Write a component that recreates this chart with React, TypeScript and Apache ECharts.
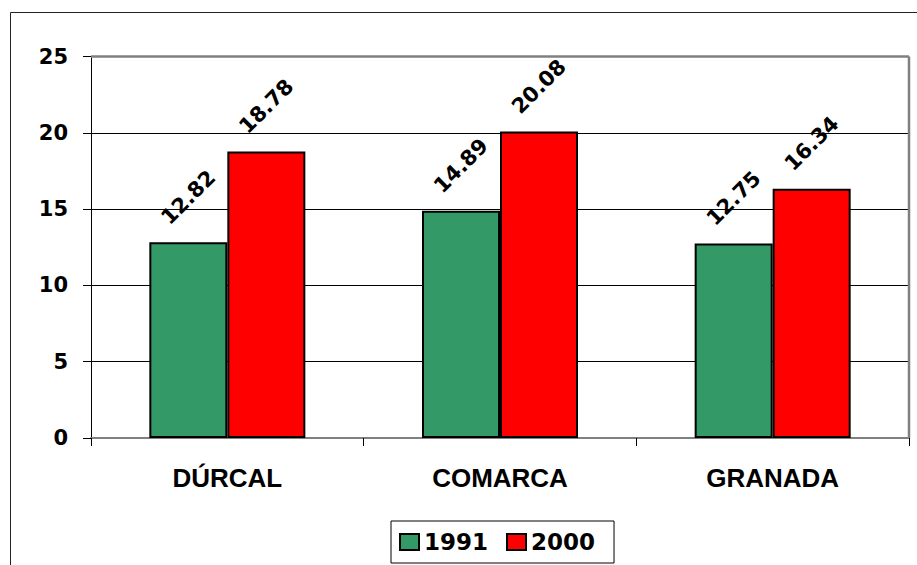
import React, { useEffect, useRef } from "react";
import * as echarts from "echarts";

const categories = ["DÚRCAL", "COMARCA", "GRANADA"];
const series1991 = [12.82, 14.89, 12.75];
const series2000 = [18.78, 20.08, 16.34];
const seriesNames = ["1991", "2000"];
const yTicks = { min: 0, max: 25, interval: 5 };

const NUM_FONT = "DejaVu Sans";
const CAT_FONT = "Liberation Sans";

export default function App() {
  const ref = useRef<HTMLDivElement>(null);
  useEffect(() => {
    document.body.style.margin = "0";
    if (!ref.current) return;
    const chart = echarts.init(ref.current, null, { renderer: "svg" });
    const W = 917;
    const H = 565;
    const gl = 91, gt = 56.5, gr = 8, gb = 127;
    const labelCfg = {
      show: true,
      position: "top",
      distance: 45,
      rotate: 45,
      align: "center",
      verticalAlign: "middle",
      fontFamily: NUM_FONT,
      fontWeight: "bold",
      fontSize: 21,
      color: "#000",
      formatter: (p: any) => p.value.toFixed(2),
    };
    chart.setOption({
      animation: false,
      backgroundColor: "#fff",
      grid: { left: gl, top: gt, right: gr, bottom: gb, containLabel: false },
      legend: {
        left: 391,
        top: 521,
        orient: "horizontal",
        borderColor: "#000",
        borderWidth: 1,
        padding: [9, 19, 9, 8],
        itemGap: 18,
        itemWidth: 19,
        itemHeight: 16,
        icon: "rect",
        textStyle: {
          fontFamily: NUM_FONT,
          fontWeight: "bold",
          fontSize: 23,
          color: "#000",
          lineHeight: 24,
        },
        data: seriesNames,
      },
      xAxis: {
        type: "category",
        data: categories,
        axisLine: { show: true, lineStyle: { color: "#808080", width: 2 } },
        axisTick: { show: true, length: 8, alignWithLabel: false, lineStyle: { color: "#000", width: 1 } },
        axisLabel: {
          margin: 27,
          fontFamily: CAT_FONT,
          fontWeight: "bold",
          fontSize: 26,
          color: "#000",
        },
        splitLine: { show: false },
      },
      yAxis: {
        type: "value",
        min: yTicks.min,
        max: yTicks.max,
        interval: yTicks.interval,
        axisLine: { show: true, lineStyle: { color: "#000", width: 1 } },
        axisTick: { show: true, length: 8, lineStyle: { color: "#000", width: 1 } },
        axisLabel: {
          margin: 23,
          fontFamily: NUM_FONT,
          fontWeight: "bold",
          fontSize: 21,
          color: "#000",
        },
        splitLine: { show: true, lineStyle: { color: "#000", width: 1 } },
      },
      series: [
        {
          name: seriesNames[0],
          type: "bar",
          data: series1991,
          barWidth: 78,
          barGap: "0%",
          itemStyle: { color: "#339966", borderColor: "#000", borderWidth: 2 },
          label: labelCfg,
        },
        {
          name: seriesNames[1],
          type: "bar",
          data: series2000,
          barWidth: 78,
          barGap: "0%",
          itemStyle: { color: "#ff0000", borderColor: "#000", borderWidth: 2 },
          label: labelCfg,
        },
      ],
      graphic: [
        {
          type: "rect",
          shape: { x: 10.5, y: 12.5, width: 1000, height: 1000 },
          style: { fill: "none", stroke: "#222", lineWidth: 1 },
          silent: true,
        },
        {
          type: "line",
          shape: { x1: gl, y1: gt, x2: W - gr, y2: gt },
          style: { stroke: "#808080", lineWidth: 2.5 },
          z: 10,
          silent: true,
        },
        {
          type: "line",
          shape: { x1: W - gr, y1: gt, x2: W - gr, y2: H - gb },
          style: { stroke: "#808080", lineWidth: 2.5 },
          z: 10,
          silent: true,
        },
      ],
    });
    return () => chart.dispose();
  }, []);
  return <div ref={ref} style={{ width: 917, height: 565 }} />;
}
